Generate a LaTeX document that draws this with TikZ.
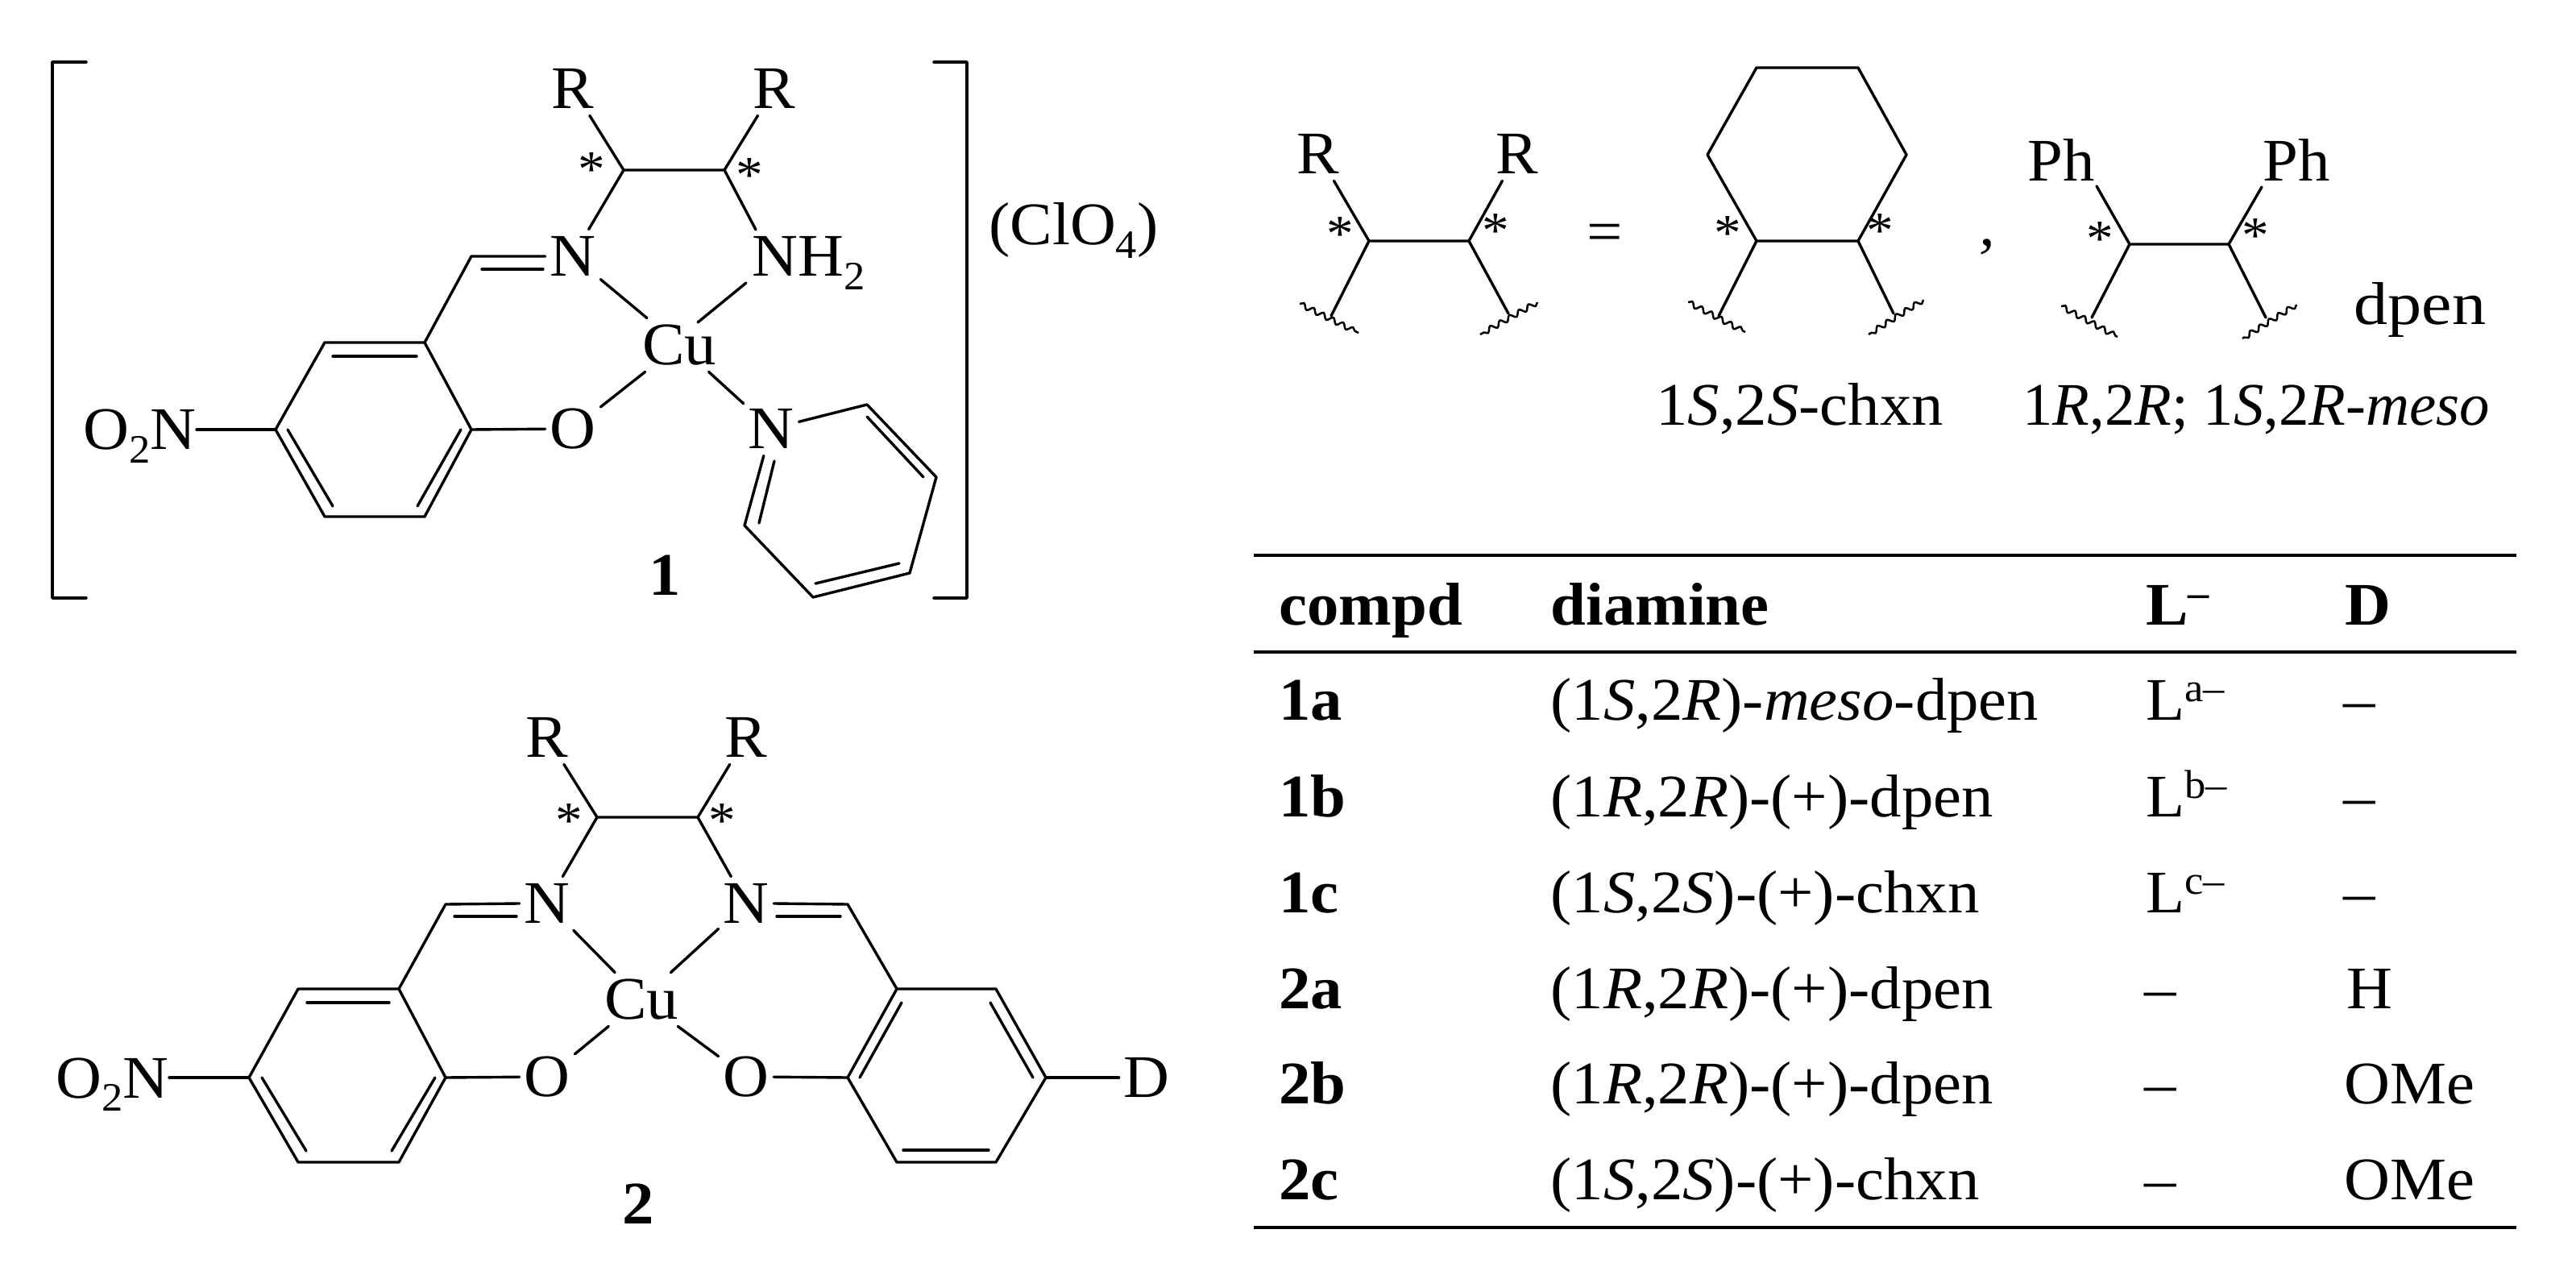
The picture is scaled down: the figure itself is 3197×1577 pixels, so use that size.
\documentclass[tikz,border=0pt]{standalone}
\usepackage{graphicx}
\usepackage{fontspec}
\setmainfont[FakeStretch=1.05]{Liberation Serif}
\usetikzlibrary{decorations.pathmorphing}
\newcommand{\supt}[1]{\raisebox{0.3em}{\fontsize{25}{25}\selectfont #1}}
\newcommand{\subt}[1]{\raisebox{-0.22em}{\fontsize{25}{25}\selectfont #1}}
\tikzset{
  bond/.style={line width=1.7pt,line cap=round,line join=round,black},
  rulex/.style={line width=1.7pt,black},
  squig/.style={line width=1.25pt,black,decorate,decoration={snake,amplitude=1.6pt,segment length=6.8pt,pre length=0pt,post length=0pt}},
  atom/.style={rectangle,inner sep=0pt,minimum width=34pt,minimum height=33pt},
  metal/.style={atom,minimum width=42pt},
  txt/.style={inner sep=0pt,anchor=base west},
  txe/.style={inner sep=0pt,anchor=base east},
  star/.style={inner sep=0pt,font=\fontsize{32}{32}\selectfont},
}
\begin{document}
\begin{tikzpicture}[x=0.5pt,y=-0.5pt,font=\fontsize{37.5}{40}\selectfont]
\useasboundingbox (0,0) rectangle (3197,1577);
% ---------- compound 1 ----------
\draw[bond] (107,77) -- (65,77) -- (65,742) -- (107,742);
\draw[bond] (1159,77) -- (1200,77) -- (1200,742) -- (1159,742);
\node[atom] (r1) at (711,110) {R};
\node[atom] (r2) at (961,110) {R};
\node[atom] (n1) at (711,318) {N};
\node[txt] (nh) at (933,343) {NH\subt{2}};
\node[metal] (cu1) at (843,428) {Cu};
\node[atom] (o1) at (711,532) {O};
\node[atom] (npy) at (957,532) {N};
\node[txe] (no1) at (244,558) {O\subt{2}N};
\node[txt] (clo) at (1227,304) {(ClO\subt{4})};
\node (lab1) at (825,714) [inner sep=0pt] {\bfseries 1};
\node[star] (s1) at (734,211) {*};
\node[star] (s2) at (930,218) {*};
\coordinate (c1) at (774,211);
\coordinate (c2) at (899,211);
\coordinate (nhT) at (938,285);
\coordinate (nhB) at (926,351);
\coordinate (cuN) at (866,400);
\coordinate (im1) at (585,318);
\coordinate (a1) at (527,425);
\coordinate (a2) at (403,425);
\coordinate (a3) at (342,533);
\coordinate (a4) at (403,641);
\coordinate (a5) at (527,641);
\coordinate (a6) at (585,533);
\coordinate (p1) at (1076,502);
\coordinate (p2) at (1162,592);
\coordinate (p3) at (1129,711);
\coordinate (p4) at (1009,741);
\coordinate (p5) at (924,652);
\draw[bond] (r1) -- (c1) -- (c2) -- (r2);
\draw[bond] (n1) -- (c1);
\draw[bond] (c2) -- (nhT);
\draw[bond] (n1) -- (cu1);
\draw[bond] (nhB) -- (cuN);
\draw[bond] (o1) -- (cu1);
\draw[bond] (npy) -- (cu1);
\draw[bond] (n1.west) -- (im1) -- (a1) -- (a2) -- (a3) -- (a4) -- (a5) -- (a6) -- (a1);
\draw[bond] (a6) -- (o1);
\draw[bond] (no1.east |- a3) -- ++(9,0) -- (a3);
\draw[bond] (npy) -- (p1) -- (p2) -- (p3) -- (p4) -- (p5) -- (npy);
\draw[bond] (598,334) -- (674,334);
\draw[bond] (413,442) -- (517,442);
\draw[bond] (357,533) -- (413,628);
\draw[bond] (572,533) -- (518,628);
\draw[bond] (1076,517) -- (1146,592);
\draw[bond] (1012,724) -- (1116,699);
\draw[bond] (942,649) -- (961,572);
% ---------- compound 2 ----------
\node[atom] (r3) at (679,915) {R};
\node[atom] (r4) at (926,915) {R};
\node[atom] (n2) at (679,1121) {N};
\node[atom] (n3) at (926,1121) {N};
\node[metal] (cu2) at (796,1240) {Cu};
\node[atom] (o2) at (679,1336) {O};
\node[atom] (o3) at (926,1336) {O};
\node[txe] (no2) at (210,1362) {O\subt{2}N};
\node[atom] (dd) at (1423,1337) {D};
\node (lab2) at (792,1494) [inner sep=0pt] {\bfseries 2};
\node[star] (s3) at (706,1019) {*};
\node[star] (s4) at (896,1019) {*};
\coordinate (c3) at (741,1014);
\coordinate (c4) at (866,1014);
\coordinate (im2) at (553,1122);
\coordinate (im3) at (1052,1122);
\coordinate (b1) at (495,1227);
\coordinate (b2) at (370,1227);
\coordinate (b3) at (309,1337);
\coordinate (b4) at (370,1442);
\coordinate (b5) at (495,1442);
\coordinate (b6) at (553,1337);
\coordinate (d1) at (1113,1227);
\coordinate (d2) at (1236,1227);
\coordinate (d3) at (1298,1337);
\coordinate (d4) at (1236,1442);
\coordinate (d5) at (1113,1442);
\coordinate (d6) at (1052,1337);
\draw[bond] (r3) -- (c3) -- (c4) -- (r4);
\draw[bond] (n2) -- (c3);
\draw[bond] (n3) -- (c4);
\draw[bond] (n2) -- (cu2);
\draw[bond] (n3) -- (cu2);
\draw[bond] (o2) -- (cu2);
\draw[bond] (o3) -- (cu2);
\draw[bond] (n2.west) -- (im2) -- (b1) -- (b2) -- (b3) -- (b4) -- (b5) -- (b6) -- (b1);
\draw[bond] (b6) -- (o2);
\draw[bond] (n3.east) -- (im3) -- (d1) -- (d2) -- (d3) -- (d4) -- (d5) -- (d6) -- (d1);
\draw[bond] (d6) -- (o3);
\draw[bond] (d3) -- (dd);
\draw[bond] (no2.east |- b3) -- ++(12,0) -- (b3);
\draw[bond] (564,1137) -- (641,1137);
\draw[bond] (964,1137) -- (1043,1137);
\draw[bond] (381,1244) -- (483,1244);
\draw[bond] (325,1337) -- (380,1428);
\draw[bond] (540,1337) -- (486,1428);
\draw[bond] (1067,1337) -- (1119,1244);
\draw[bond] (1229,1244) -- (1282,1337);
\draw[bond] (1121,1427) -- (1227,1427);
% ---------- generic diamine ----------
\node[atom] (r5) at (1636,191) {R};
\node[atom] (r6) at (1883,191) {R};
\node[star] (s5) at (1663,291) {*};
\node[star] (s6) at (1856,287) {*};
\node (eq) at (1992,295) [inner sep=0pt] {=};
\coordinate (e1) at (1699,299);
\coordinate (e2) at (1823,299);
\coordinate (e3) at (1652,392);
\coordinate (e4) at (1872,389);
\coordinate (q1) at (1613,377);
\coordinate (q2) at (1686,413);
\coordinate (q3) at (1908,375);
\coordinate (q4) at (1837,415);
\draw[bond] (r5) -- (e1) -- (e2) -- (r6);
\draw[bond] (e1) -- (e3);
\draw[bond] (e2) -- (e4);
\draw[squig] (q1) -- (q2);
\draw[squig] (q3) -- (q4);
% ---------- chxn ----------
\coordinate (h1) at (2180,299);
\coordinate (h2) at (2306,299);
\coordinate (h3) at (2366,192);
\coordinate (h4) at (2306,84);
\coordinate (h5) at (2180,84);
\coordinate (h6) at (2119,192);
\coordinate (h7) at (2133,392);
\coordinate (h8) at (2350,389);
\coordinate (q5) at (2095,375);
\coordinate (q6) at (2166,412);
\coordinate (q7) at (2387,372);
\coordinate (q8) at (2319,415);
\draw[bond] (h1) -- (h2) -- (h3) -- (h4) -- (h5) -- (h6) -- cycle;
\draw[bond] (h1) -- (h7);
\draw[bond] (h2) -- (h8);
\draw[squig] (q5) -- (q6);
\draw[squig] (q7) -- (q8);
\node[star] (s7) at (2144,290) {*};
\node[star] (s8) at (2333,287) {*};
\node (cm) at (2466,305) [inner sep=0pt,anchor=base] {\itshape ,};
% ---------- dpen ----------
\node[inner sep=0pt] (ph1) at (2558,198) {Ph};
\node[inner sep=0pt] (ph2) at (2850,198) {Ph};
\node[star] (s9) at (2606,297) {*};
\node[star] (s10) at (2799,293) {*};
\coordinate (ph1b) at (2602,231);
\coordinate (ph2b) at (2807,232);
\coordinate (f1) at (2643,303);
\coordinate (f2) at (2766,303);
\coordinate (f3) at (2596,394);
\coordinate (f4) at (2812,394);
\coordinate (q9) at (2558,380);
\coordinate (q10) at (2628,418);
\coordinate (q11) at (2850,378);
\coordinate (q12) at (2783,420);
\draw[bond] (ph1b) -- (f1) -- (f2) -- (ph2b);
\draw[bond] (f1) -- (f3);
\draw[bond] (f2) -- (f4);
\draw[squig] (q9) -- (q10);
\draw[squig] (q11) -- (q12);
\node[txt] (dp) at (2921,403) {\scalebox{1.07}[1]{dpen}};
\node[txt] (lchx) at (2055,528) {1\textit{S},2\textit{S}-chxn};
\node[txt] (ldp) at (2510,528) {\scalebox{0.95}[1]{1\textit{R},2\textit{R}; 1\textit{S},2\textit{R}-\textit{meso}}};
% ---------- table ----------
\coordinate (t1l) at (1556,689); \coordinate (t1r) at (3123,689);
\coordinate (t2l) at (1556,809); \coordinate (t2r) at (3123,809);
\coordinate (t3l) at (1556,1523); \coordinate (t3r) at (3123,1523);
\draw[rulex] (t1l) -- (t1r);
\draw[rulex] (t2l) -- (t2r);
\draw[rulex] (t3l) -- (t3r);
\node[txt] (h-a) at (1587,775) {\bfseries compd};
\node[txt] (h-b) at (1924,775) {\bfseries diamine};
\node[txt] (h-c) at (2663,775) {\bfseries L\supt{–}};
\node[txt] (h-d) at (2910,775) {\bfseries D};
\node[txt] (a-a) at (1587,893) {\bfseries 1a};
\node[txt] (a-b) at (1924,893) {(1\textit{S},2\textit{R})-\textit{meso}-dpen};
\node[txt] (a-c) at (2663,893) {L\supt{a–}};
\node[txt] (a-d) at (2908,893) {–};
\node[txt] (b-a) at (1587,1013) {\bfseries 1b};
\node[txt] (b-b) at (1924,1013) {(1\textit{R},2\textit{R})-(+)-dpen};
\node[txt] (b-c) at (2663,1013) {L\supt{b–}};
\node[txt] (b-d) at (2908,1013) {–};
\node[txt] (c-a) at (1587,1132) {\bfseries 1c};
\node[txt] (c-b) at (1924,1132) {(1\textit{S},2\textit{S})-(+)-chxn};
\node[txt] (c-c) at (2663,1132) {L\supt{c–}};
\node[txt] (c-d) at (2908,1132) {–};
\node[txt] (d-a) at (1587,1251) {\bfseries 2a};
\node[txt] (d-b) at (1924,1251) {(1\textit{R},2\textit{R})-(+)-dpen};
\node[txt] (d-c) at (2661,1251) {–};
\node[txt] (d-d) at (2912,1251) {H};
\node[txt] (e-a) at (1587,1369) {\bfseries 2b};
\node[txt] (e-b) at (1924,1369) {(1\textit{R},2\textit{R})-(+)-dpen};
\node[txt] (e-c) at (2661,1369) {–};
\node[txt] (e-d) at (2909,1369) {OMe};
\node[txt] (f-a) at (1587,1488) {\bfseries 2c};
\node[txt] (f-b) at (1924,1488) {(1\textit{S},2\textit{S})-(+)-chxn};
\node[txt] (f-c) at (2661,1488) {–};
\node[txt] (f-d) at (2909,1488) {OMe};
\end{tikzpicture}
\end{document}
